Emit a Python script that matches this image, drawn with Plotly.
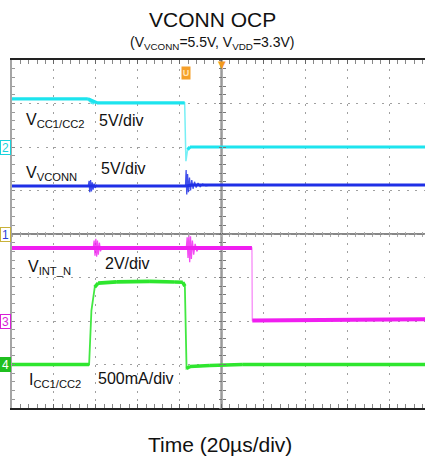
import plotly.graph_objects as go

# ---------------- waveform samples (time in µs, trigger at t = 0) ----------------
# V_CC1/CC2 (V)
t_vcc = [-100.0, -63.8, -59.5, -17.6, -17.0, -16.2, -15.1, 97.1]
v_vcc = [5.54, 5.54, 5.08, 5.08, -1.63, -0.30, 0.0, 0.0]
t_vcc_ring = [-63.4, -63.0, -62.6, -62.2, -61.8, -61.3, -60.8, -60.2]
v_vcc_ring = [5.50, 5.15, 5.55, 4.95, 5.35, 4.90, 5.20, 5.05]

# V_VCONN (V)
t_vconn = [-100.0, -16.7, -14.0, 97.1]
v_vconn = [5.52, 5.52, 5.63, 5.63]
t_vconn_ring1 = [-63.6, -63.2, -62.9, -62.5, -62.1, -61.7, -61.3, -60.8, -60.3, -59.8, -59.2]
v_vconn_ring1 = [5.52, 6.10, 4.80, 6.20, 4.90, 5.95, 5.10, 5.80, 5.30, 5.60, 5.52]
t_vconn_ring2 = [-17.2, -16.9, -16.6, -16.2, -15.8, -15.3, -14.8, -14.2, -13.6, -12.9,
                 -12.1, -11.2, -10.2, -9.0, -7.5, -5.5]
v_vconn_ring2 = [5.52, 7.35, 4.55, 6.90, 4.80, 6.50, 5.00, 6.20, 5.20, 6.00,
                 5.35, 5.85, 5.45, 5.75, 5.55, 5.63]

# V_INT_N (V)
t_vint = [-100.0, 14.5, 14.7, 97.1]
v_vint = [3.36, 3.36, 0.02, 0.08]
t_vint_ring1 = [-61.2, -60.8, -60.4, -60.0, -59.6, -59.2, -58.8, -58.3, -57.8, -57.2]
v_vint_ring1 = [3.36, 3.70, 3.00, 3.78, 2.95, 3.70, 3.05, 3.60, 3.20, 3.36]
t_vint_ring2 = [-16.8, -16.4, -16.0, -15.6, -15.2, -14.8, -14.4, -13.9, -13.3, -12.6, -11.8, -11.0]
v_vint_ring2 = [3.36, 3.85, 2.90, 3.95, 2.70, 3.90, 2.85, 3.70, 3.05, 3.55, 3.20, 3.36]

# I_CC1/CC2 (A)
t_icc = [-100.0, -63.2, -62.1, -60.5, -58.9, -50.0, -34.2, -22.3, -18.5, -17.5, -16.7, -15.1, -5.6, 10.0, 97.1]
i_icc = [0.0, 0.0, 0.62, 0.89, 0.935, 0.95, 0.955, 0.948, 0.945, 0.90, -0.046, -0.023, -0.011, 0.0, 0.0]

# ---------------- canvas geometry ----------------
W, H = 425, 462
ML, MT, MB = 12, 60, 54
PW = W - ML
PH = H - MT - MB
X0, X1 = -100.0, 97.1
Y0, Y1 = -4.0, 4.0
PX_PER_US = PW / (X1 - X0)
PX_PER_DIV = PH / (Y1 - Y0)
FONT = "Liberation Sans, Arial, sans-serif"


def xp(px):
    return (px - ML) / PW


def yp(py):
    return (H - MB - py) / PH


def to_div(vals, offset, per_div):
    return [offset + v / per_div for v in vals]


def flat_segments(t, y):
    """Keep only the slow parts of a waveform; fast edges are drawn by the thin trace."""
    xs, ys = [], []
    for i in range(len(t) - 1):
        dx = abs(t[i + 1] - t[i]) * PX_PER_US
        dy = abs(y[i + 1] - y[i]) * PX_PER_DIV
        if dy > 4 and dy > dx:
            continue
        xs += [t[i], t[i + 1], None]
        ys += [y[i], y[i + 1], None]
    return xs, ys


channels = [
    dict(t=t_vcc, v=v_vcc, rings=[(t_vcc_ring, v_vcc_ring)], offset=2, per_div=5.0,
         color="#1de4ee", edge="rgba(29,228,238,0.6)", ring="rgba(29,228,238,0.8)", w=3.2, ew=1.5),
    dict(t=t_vconn, v=v_vconn, rings=[(t_vconn_ring1, v_vconn_ring1), (t_vconn_ring2, v_vconn_ring2)],
         offset=0, per_div=5.0, color="#1f2fe6", edge="rgba(31,47,230,0.6)",
         ring="rgba(31,47,230,0.85)", w=3.2, ew=1.3),
    dict(t=t_vint, v=v_vint, rings=[(t_vint_ring1, v_vint_ring1), (t_vint_ring2, v_vint_ring2)],
         offset=-2, per_div=2.0, color="#f01ef0", edge="rgba(240,30,240,0.45)",
         ring="rgba(240,30,240,0.8)", w=4.0, ew=1.5),
    dict(t=t_icc, v=i_icc, rings=[], offset=-3, per_div=0.5,
         color="#2ee62e", edge="rgba(46,230,46,0.9)", ring="#2ee62e", w=3.6, ew=1.8),
]

fig = go.Figure()

for ch in channels:
    y = to_div(ch["v"], ch["offset"], ch["per_div"])
    fig.add_trace(go.Scatter(x=ch["t"], y=y, mode="lines", hoverinfo="skip",
                             line=dict(color=ch["edge"], width=ch["ew"])))
    for rt, rv in ch["rings"]:
        fig.add_trace(go.Scatter(x=rt, y=to_div(rv, ch["offset"], ch["per_div"]), mode="lines",
                                 hoverinfo="skip", line=dict(color=ch["ring"], width=1.3)))
    fx, fy = flat_segments(ch["t"], y)
    fig.add_trace(go.Scatter(x=fx, y=fy, mode="lines", hoverinfo="skip",
                             line=dict(color=ch["color"], width=ch["w"])))

# empty traces so the centre-line tick axes get registered
for xa, ya in [("x2", "y"), ("x3", "y"), ("x", "y2"), ("x", "y3")]:
    fig.add_trace(go.Scatter(x=[None], y=[None], xaxis=xa, yaxis=ya, hoverinfo="skip"))

common = dict(showticklabels=False, zeroline=False, fixedrange=True)

fig.update_layout(
    width=W, height=H,
    margin=dict(l=ML, r=0, t=MT, b=MB, pad=0),
    paper_bgcolor="white", plot_bgcolor="white",
    showlegend=False,
    font=dict(family=FONT, color="#111"),
    xaxis=dict(range=[X0, X1], tick0=0, dtick=20, showgrid=True, gridcolor="#a0a0a0",
               gridwidth=1, griddash="2px,6.7px", showline=True, linecolor="#222",
               linewidth=1.5, mirror="allticks", ticks="inside", ticklen=4, tickcolor="#666",
               minor=dict(dtick=4, tick0=0, ticks="inside", ticklen=3, tickcolor="#888",
                          showgrid=False), **common),
    yaxis=dict(range=[Y0, Y1], tick0=0, dtick=1, showgrid=True, gridcolor="#a0a0a0",
               gridwidth=1, griddash="2px,6.4px", showline=True, linecolor="#a5a5a5",
               linewidth=2, mirror=False, ticks="inside", ticklen=3, tickcolor="#888",
               minor=dict(dtick=0.2, tick0=0, ticks="inside", ticklen=3, tickcolor="#999",
                          showgrid=False), **common),
    xaxis2=dict(overlaying="x", anchor="free", position=0.5, range=[X0, X1], tick0=0, dtick=4,
                ticks="outside", ticklen=2, tickcolor="#aaa", showgrid=False, showline=False, **common),
    xaxis3=dict(overlaying="x", anchor="free", position=0.5, range=[X0, X1], tick0=0, dtick=4,
                ticks="inside", ticklen=2, tickcolor="#aaa", showgrid=False, showline=False, **common),
    yaxis2=dict(overlaying="y", anchor="free", position=(0 - X0) / (X1 - X0), range=[Y0, Y1],
                tick0=0, dtick=0.2, ticks="outside", ticklen=3, tickcolor="#777",
                showgrid=False, showline=False, **common),
    yaxis3=dict(overlaying="y", anchor="free", position=(0 - X0) / (X1 - X0), range=[Y0, Y1],
                tick0=0, dtick=0.2, ticks="inside", ticklen=3, tickcolor="#777",
                showgrid=False, showline=False, **common),
)

# centre graticule lines
fig.add_shape(type="line", xref="x", yref="paper", x0=0, x1=0, y0=0, y1=1,
              line=dict(color="#9a9a9a", width=2.5), layer="between")
fig.add_shape(type="line", xref="paper", yref="y", x0=0, x1=1, y0=0, y1=0,
              line=dict(color="#111", width=1.2), layer="between")

ann = []


def text(x, y, s, size, anchor="left", **kw):
    ann.append(dict(xref="paper", yref="paper", x=xp(x), y=yp(y), text=s, showarrow=False,
                    xanchor=anchor, yanchor="middle", font=dict(size=size, family=FONT,
                                                               color=kw.pop("color", "#111")), **kw))


# titles
text(212.8, 19.0, "VCONN OCP", 21, "center")
text(212.3, 43.0, "(V<sub>VCONN</sub>=5.5V, V<sub>VDD</sub>=3.3V)", 14, "center")
text(220.2, 445.0, "Time (20µs/div)", 21, "center")

# channel labels
text(24, 120, "V<sub>CC1/CC2</sub>", 16)
text(97, 120, "5V/div", 16)
text(24, 173, "V<sub>VCONN</sub>", 16)
text(99, 168.5, "5V/div", 16)
text(25.5, 267, "V<sub>INT_N</sub>", 16)
text(103, 263, "2V/div", 16)
text(27, 380, "I<sub>CC1/CC2</sub>", 16)
text(96, 378.5, "500mA/div", 16)

# channel ground markers on the left edge
markers = [("2", 2, "#19d3dd", "white", "#19d3dd"),
           ("1", 0, "#2a3fd8", "white", "#c9b23a"),
           ("3", -2, "#d81ed8", "white", "#d81ed8"),
           ("4", -3, "white", "#1fbf1f", "#1fbf1f")]
for label, lvl, fc, bg, bc in markers:
    ann.append(dict(xref="paper", yref="y", x=0, y=lvl, text=label, showarrow=False,
                    xanchor="right", yanchor="middle", xshift=-1, width=9, height=13,
                    font=dict(size=12, family=FONT, color=fc),
                    bgcolor=bg, bordercolor=bc, borderwidth=1, borderpad=0))

# trigger position and event markers
ann.append(dict(xref="x", yref="paper", x=0, y=1, text="▼", showarrow=False,
                xanchor="center", yanchor="top", yshift=3,
                font=dict(size=10, color="#f39a1e", family="DejaVu Sans")))
ann.append(dict(xref="paper", yref="paper", x=xp(185.7), y=yp(73), text="<b>U</b>",
                showarrow=False, xanchor="center", yanchor="middle", width=8, height=12,
                font=dict(size=9, color="#ffe3b8", family=FONT),
                bgcolor="#f5a02a", borderpad=0))

fig.update_layout(annotations=ann)

fig.write_html("out.html")
